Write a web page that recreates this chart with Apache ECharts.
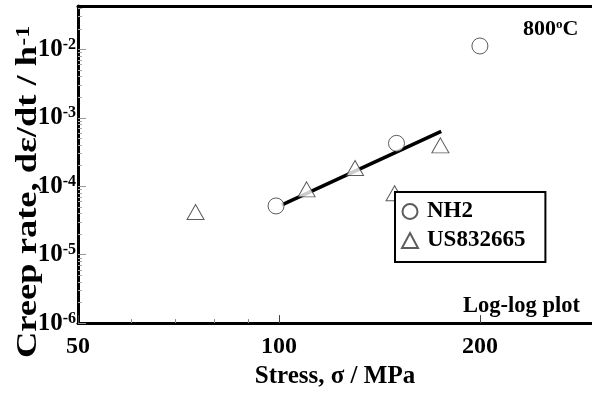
<!DOCTYPE html>
<html><head><meta charset="utf-8">
<script src="https://cdn.jsdelivr.net/npm/echarts@6/dist/echarts.min.js"></script>
<style>html,body{margin:0;padding:0;background:#fff}#c{width:592px;height:394px}</style>
</head><body><div id="c"></div>
<script>
const nh2Stress = [99, 150, 200];
const nh2Rate = [5.15e-5, 4.23e-4, 1.12e-2];
const usStress = [75, 110, 130, 149, 174.5];
const usRate = [4.2e-5, 9.0e-5, 1.85e-4, 7.9e-5, 3.95e-4];
const fitStress = [101, 175];
const fitRate = [5.33e-5, 6.32e-4];
const xTicks = [50, 100, 200];
const xMinorTicks = [60, 70, 80, 90];
const yTicks = [1e-6, 1e-5, 1e-4, 1e-3, 1e-2];
const xRange = [50, 294.4];
const yRange = [1e-6, 0.043];

const FONT = 'Liberation Serif';
const yMinorTicks = [];
yTicks.forEach(d => { for (let k = 2; k <= 9; k++) { const v = d * k; if (v < yRange[1]) yMinorTicks.push(v); } });

const zip = (a, b) => a.map((v, i) => [v, b[i]]);
const chart = echarts.init(document.getElementById('c'), null, {renderer: 'canvas'});
const bold = {fontFamily: FONT, fontWeight: 'bold', color: '#000'};

chart.setOption({
  animation: false,
  backgroundColor: '#fff',
  grid: {left: 78, top: 6, right: 0, bottom: 66, show: false},
  xAxis: [{
    type: 'log', logBase: 10, min: xRange[0], max: xRange[1], position: 'bottom',
    axisLine: {show: true, lineStyle: {color: '#000', width: 3}},
    axisTick: {show: true, inside: true, length: 8, customValues: xTicks, lineStyle: {color: '#444', width: 1}},
    axisLabel: {customValues: xTicks, margin: 12, fontSize: 24, ...bold, formatter: v => String(Math.round(v))},
    splitLine: {show: false},
    name: 'Stress, σ / MPa', nameLocation: 'middle', nameGap: 40,
    nameTextStyle: {fontSize: 25, ...bold}
  }, {
    type: 'log', logBase: 10, min: xRange[0], max: xRange[1], position: 'bottom', offset: 0,
    axisLine: {show: false},
    axisTick: {show: true, inside: true, length: 4, customValues: xMinorTicks, lineStyle: {color: '#888', width: 1}},
    axisLabel: {show: false}, splitLine: {show: false}
  }, {
    type: 'log', logBase: 10, min: xRange[0], max: xRange[1], position: 'top', offset: 0,
    axisLine: {show: true, lineStyle: {color: '#000', width: 3}},
    axisTick: {show: false}, axisLabel: {show: false}, splitLine: {show: false}
  }],
  yAxis: [{
    type: 'log', logBase: 10, min: yRange[0], max: yRange[1], position: 'left',
    axisLine: {show: true, lineStyle: {color: '#000', width: 3}},
    axisTick: {show: true, inside: true, length: 8, customValues: yTicks, lineStyle: {color: '#999', width: 1}},
    axisLabel: {
      customValues: yTicks, margin: 2,
      formatter: v => '{b|10}{s|' + Math.round(Math.log10(v)) + '}',
      rich: {
        b: {fontSize: 25, ...bold},
        s: {fontSize: 16, ...bold, verticalAlign: 'top'}
      }
    },
    splitLine: {show: false}
  }, {
    type: 'log', logBase: 10, min: yRange[0], max: yRange[1], position: 'left', offset: 0,
    axisLine: {show: false},
    axisTick: {show: true, inside: true, length: 4, customValues: yMinorTicks, lineStyle: {color: '#aaa', width: 1}},
    axisLabel: {show: false}, splitLine: {show: false}
  }],
  legend: {
    data: ['NH2', 'US832665'], orient: 'vertical', left: 395, top: 192,
    padding: [8, 20, 10, 6], itemWidth: 16, itemHeight: 15, itemGap: 6,
    backgroundColor: '#fff', borderColor: '#000', borderWidth: 2, borderRadius: 0,
    textStyle: {fontSize: 23, ...bold, padding: [0, 0, 0, 4]}, z: 10
  },
  graphic: [
    {type: 'text', left: 523, top: 18, z: 20, style: {text: '{a|800}{s|o}{a|C}', rich: {a: {fontSize: 22, ...bold}, s: {fontSize: 13, ...bold, verticalAlign: 'top'}}}},
    {type: 'text', left: 463, top: 295, z: 20, style: {text: 'Log-log plot', fontSize: 22.5, fontFamily: FONT, fontWeight: 'bold', fill: '#000'}},
    {type: 'text', x: 29, y: 192, rotation: Math.PI / 2, scaleX: 1.26, z: 20, style: {text: '{a|Creep rate, dε/dt / h}{s|-1}', align: 'center', verticalAlign: 'middle', rich: {a: {fontSize: 29, ...bold}, s: {fontSize: 19, ...bold, verticalAlign: 'top'}}}}
  ],
  series: [
    {name: 'fit', type: 'line', data: zip(fitStress, fitRate), symbol: 'none', lineStyle: {color: '#000', width: 3.5}, z: 3},
    {name: 'NH2', type: 'scatter', data: zip(nh2Stress, nh2Rate), symbol: 'circle', symbolSize: 16,
      itemStyle: {color: '#fff', borderColor: '#333', borderWidth: 1}, z: 4},
    {name: 'US832665', type: 'scatter', data: zip(usStress, usRate), symbol: 'triangle', symbolSize: [17, 15],
      itemStyle: {color: '#fff', borderColor: '#333', borderWidth: 1}, z: 4}
  ]
});
</script></body></html>
